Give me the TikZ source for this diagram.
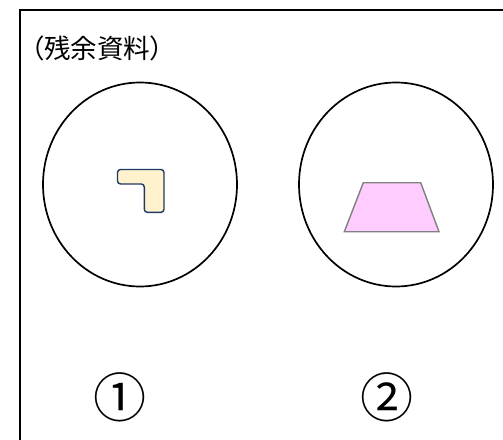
\documentclass[tikz,border=0pt]{standalone}
\usepackage{fontspec}
\newfontfamily\cjk{Noto Sans CJK JP}
\newfontfamily\cjkp[RawFeature=+palt]{Noto Sans CJK JP}
\definecolor{lfill}{HTML}{FFF2CC}
\definecolor{lline}{HTML}{1F3864}
\definecolor{tfill}{HTML}{FFCCFF}
\definecolor{tline}{HTML}{808080}
\begin{document}
\begin{tikzpicture}[x=1pt,y=-1pt,
  lens/.style={draw=black,line width=1.7pt},
  label/.style={font=\cjk\fontsize{53}{53}\selectfont,inner sep=0pt}]
\useasboundingbox (0,0) rectangle (503,439);
\draw[line width=2pt] (19.5,460) -- (19.5,9.5) -- (520,9.5);
\node[anchor=west,inner sep=0pt,font=\cjkp\fontsize{26.5}{26.5}\selectfont] (title) at (31,48) {（残余資料）};
\draw[lens] (140,184.5) ellipse [x radius=97,y radius=102];
\draw[lens] (396,184.5) ellipse [x radius=97,y radius=102];
\coordinate (c1) at (140,184.5);
\coordinate (c2) at (396,184.5);
\draw[fill=lfill,draw=lline,line width=1.4pt,rounded corners=3pt]
  (117.5,184) -- (117.5,169.5) -- (164,169.5) -- (164,212.3) -- (144.3,212.3) -- (144.3,184) -- cycle;
\draw[fill=tfill,draw=tline,line width=1.4pt]
  (363.3,182.7) -- (420.7,182.7) -- (439,231.7) -- (344.3,231.7) -- cycle;
\node[label] (n1) at (120,397) {①};
\node[label] (n2) at (387,397) {②};
\end{tikzpicture}
\end{document}
